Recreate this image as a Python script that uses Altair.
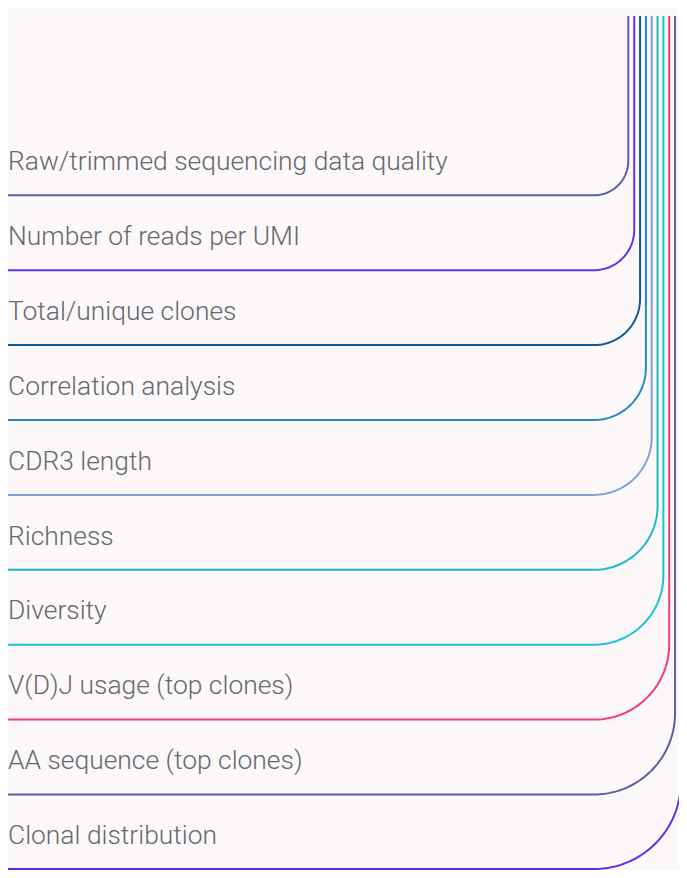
import altair as alt
import numpy as np
import pandas as pd

labels = [
    "Raw/trimmed sequencing data quality",
    "Number of reads per UMI",
    "Total/unique clones",
    "Correlation analysis",
    "CDR3 length",
    "Richness",
    "Diversity",
    "V(D)J usage (top clones)",
    "AA sequence (top clones)",
    "Clonal distribution",
]
colors = ["#5b5ea8", "#6030f5", "#0d5a9e", "#2487c8", "#7ea4d4",
          "#1ab9c6", "#18c2d8", "#ee3f6c", "#5a5da6", "#5b2cf2"]
row_y = [197, 272.6, 348.2, 423.8, 499.4, 575, 650.6, 726.2, 801.8, 877.0]
turn_x = [635.7, 641.7, 647.6, 653.5, 659.4, 665.3, 671.2, 677.1, 683.0, 688.9]

left_x = 8
curve_start = 601
top_y = 16
label_offset = 25.5

rows = []
for lab, yy, xx in zip(labels, row_y, turn_x):
    r = xx - curve_start
    pts = [(left_x, yy), (curve_start, yy)]
    cx, cy = curve_start, yy - r
    for t in np.linspace(0, np.pi / 2, 48):
        pts.append((cx + r * np.sin(t), cy + r * np.cos(t)))
    pts.append((xx, top_y))
    for k, (px, py) in enumerate(pts):
        rows.append({"row": lab, "k": k, "x": px, "y": py})
lines_df = pd.DataFrame(rows)

text_df = pd.DataFrame({"label": labels, "x": [left_x] * len(labels),
                        "y": [v - label_offset for v in row_y]})

xs = alt.Scale(domain=[8, 687], nice=False, zero=False)
ys = alt.Scale(domain=[8, 878], nice=False, zero=False, reverse=True)

lines = alt.Chart(lines_df).mark_line(strokeWidth=2, strokeCap="butt", clip=True).encode(
    x=alt.X("x:Q", scale=xs, axis=None),
    y=alt.Y("y:Q", scale=ys, axis=None),
    color=alt.Color("row:N", scale=alt.Scale(domain=labels, range=colors), legend=None),
    detail="row:N",
    order="k:Q",
)

texts = alt.Chart(text_df).mark_text(
    align="left", baseline="alphabetic", font="Roboto", fontWeight=300,
    fontSize=26.4, color="#65686e"
).encode(
    x=alt.X("x:Q", scale=xs, axis=None),
    y=alt.Y("y:Q", scale=ys, axis=None),
    text="label:N",
)

chart = alt.layer(lines, texts).properties(
    width=671, height=862, background="#fcf8f9", padding=0,
    autosize=alt.AutoSizeParams(type="none"),
).configure_view(stroke=None)

chart.save("out.html", embed_options={"renderer": "svg", "actions": False})
